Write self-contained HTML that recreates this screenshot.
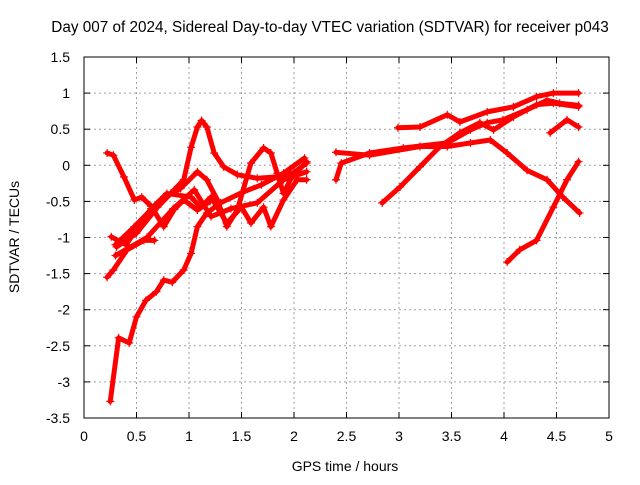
<!DOCTYPE html>
<html><head><meta charset="utf-8"><style>
body{margin:0;background:#fff}
svg text{font-family:"Liberation Sans",sans-serif;font-size:14px;fill:#000}
</style></head><body>
<svg width="640" height="480" xmlns="http://www.w3.org/2000/svg">
<rect width="640" height="480" fill="#fff"/>
<text x="330" y="32" text-anchor="middle" style="font-size:15.3px">Day 007 of 2024, Sidereal Day-to-day VTEC variation (SDTVAR) for receiver p043</text>
<g id="grid"></g>
<g id="axes"></g>
<g id="series"></g>
<text x="345" y="471" text-anchor="middle">GPS time / hours</text>
<text transform="translate(19,237) rotate(-90)" text-anchor="middle">SDTVAR / TECUs</text>
</svg>
<script>
const xTicks=[0,0.5,1,1.5,2,2.5,3,3.5,4,4.5,5];
const yTicks=[1.5,1,0.5,0,-0.5,-1,-1.5,-2,-2.5,-3,-3.5];
const trackA_t=[0.25,0.33,0.43,0.5,0.59,0.69,0.76,0.84,0.95,1.02,1.08,1.17,1.3,1.5,1.69,1.9,2.1];
const trackA_v=[-3.27,-2.39,-2.46,-2.1,-1.87,-1.75,-1.59,-1.62,-1.45,-1.22,-0.85,-0.66,-0.52,-0.38,-0.27,-0.11,0.1];
const trackB_t=[0.22,0.28,0.38,0.48,0.55,0.64,0.76,0.86,0.95,1.08,1.2];
const trackB_v=[0.17,0.14,-0.16,-0.48,-0.44,-0.57,-0.85,-0.61,-0.48,-0.62,-0.5];
const trackC_t=[0.31,0.5,0.7,0.86,0.95,1.02,1.08,1.12,1.17,1.24,1.33,1.46,1.65,1.84,2.03,2.12];
const trackC_v=[-1.13,-0.94,-0.58,-0.34,-0.2,0.25,0.53,0.62,0.53,0.17,-0.02,-0.13,-0.18,-0.16,-0.09,0.05];
const trackD_t=[0.3,0.48,0.73,0.92,1.08,1.17,1.27,1.36,1.46,1.59,1.71,1.78,1.84,1.9,2.0,2.12];
const trackD_v=[-1.1,-0.85,-0.48,-0.32,-0.09,-0.2,-0.48,-0.85,-0.62,0.03,0.24,0.17,-0.11,-0.39,-0.1,0.03];
const trackE_t=[0.26,0.4,0.64,0.79,1.02,1.11,1.21,1.36,1.5,1.59,1.71,1.78,1.9,2.03,2.12];
const trackE_v=[-0.99,-1.1,-0.6,-0.39,-0.44,-0.58,-0.44,-0.8,-0.58,-0.8,-0.58,-0.85,-0.48,-0.2,-0.2];
const trackF_t=[0.3,0.6,0.85,1.05,1.21,1.4,1.65,1.9,2.12];
const trackF_v=[-1.25,-1.0,-0.6,-0.34,-0.71,-0.6,-0.52,-0.2,-0.09];
const trackG_t=[0.22,0.28,0.41,0.57,0.67];
const trackG_v=[-1.55,-1.45,-1.17,-1.04,-1.04];
const trackH_t=[2.4,2.45,2.72,3.04,3.46,3.68,3.84,3.99,4.22,4.41,4.53,4.71];
const trackH_v=[-0.2,0.03,0.17,0.24,0.31,0.49,0.59,0.63,0.77,0.9,0.86,0.83];
const trackI_t=[2.4,2.72,3.2,3.46,3.68,3.87,4.03,4.22,4.41,4.56,4.72];
const trackI_v=[0.18,0.14,0.26,0.26,0.31,0.35,0.17,-0.07,-0.2,-0.44,-0.66];
const trackJ_t=[2.84,3.01,3.2,3.39,3.58,3.77,3.9,4.09,4.31,4.47,4.71];
const trackJ_v=[-0.52,-0.3,-0.02,0.26,0.45,0.59,0.49,0.67,0.84,0.86,0.81];
const trackK_t=[2.99,3.2,3.46,3.58,3.84,4.09,4.31,4.47,4.71];
const trackK_v=[0.52,0.53,0.7,0.6,0.74,0.81,0.95,1.0,1.0];
const trackL_t=[4.03,4.15,4.31,4.47,4.6,4.71];
const trackL_v=[-1.34,-1.17,-1.04,-0.58,-0.2,0.05];
const trackM_t=[4.44,4.6,4.71];
const trackM_v=[0.45,0.63,0.53];
const tracks=[[trackA_t,trackA_v],[trackB_t,trackB_v],[trackC_t,trackC_v],[trackD_t,trackD_v],[trackE_t,trackE_v],[trackF_t,trackF_v],[trackG_t,trackG_v],[trackH_t,trackH_v],[trackI_t,trackI_v],[trackJ_t,trackJ_v],[trackK_t,trackK_v],[trackL_t,trackL_v],[trackM_t,trackM_v]];
const L=84,R=609,T=57,B=418;
const X=h=>L+(h-0)/5*(R-L);
const Y=v=>T+(1.5-v)/5*(B-T);
const NS="http://www.w3.org/2000/svg";
function mk(tag,attrs,parent){const e=document.createElementNS(NS,tag);for(const k in attrs)e.setAttribute(k,attrs[k]);parent.appendChild(e);return e;}
const grid=document.getElementById('grid'),axes=document.getElementById('axes'),series=document.getElementById('series');
xTicks.forEach(t=>{
  const x=X(t);
  if(t>0&&t<5){const g=mk('line',{x1:x,x2:x,y1:T,y2:B,stroke:'#a0a0a0','stroke-dasharray':'2,3'},grid);
  
  }
  mk('line',{x1:x,x2:x,y1:B,y2:B-6,stroke:'#000'},axes);
  mk('line',{x1:x,x2:x,y1:T,y2:T+6,stroke:'#000'},axes);
  const tx=mk('text',{x:x,y:B+23,'text-anchor':'middle'},axes);
  tx.textContent=t;
  
  
});
yTicks.forEach(t=>{
  const y=Y(t);
  if(t<1.5&&t>-3.5){const g=mk('line',{x1:L,x2:R,y1:y,y2:y,stroke:'#a0a0a0','stroke-dasharray':'2,3'},grid);
  
  }
  mk('line',{x1:L,x2:L+6,y1:y,y2:y,stroke:'#000'},axes);
  mk('line',{x1:R,x2:R-6,y1:y,y2:y,stroke:'#000'},axes);
  const tx=mk('text',{x:70,y:y+5,'text-anchor':'end'},axes);
  tx.textContent=t;
  
  
});
const fr=mk('rect',{x:L,y:T,width:R-L,height:B-T,fill:'none',stroke:'#000'},axes);


tracks.forEach(([ts,vs])=>{
  const pts=ts.map((t,i)=>X(t)+','+Y(vs[i])).join(' ');
  const pl=mk('polyline',{points:pts,fill:'none',stroke:'#ff0000','stroke-width':5,'stroke-linejoin':'round','stroke-linecap':'round'},series);
  
  
  ts.forEach((t,i)=>{
    const x=X(t),y=Y(vs[i]);
    const p=mk('path',{d:`M${x-4},${y}H${x+4}M${x},${y-4}V${y+4}`,stroke:'#ff0000','stroke-width':1.2},series);
    
    
  });
});
</script>
</body></html>
